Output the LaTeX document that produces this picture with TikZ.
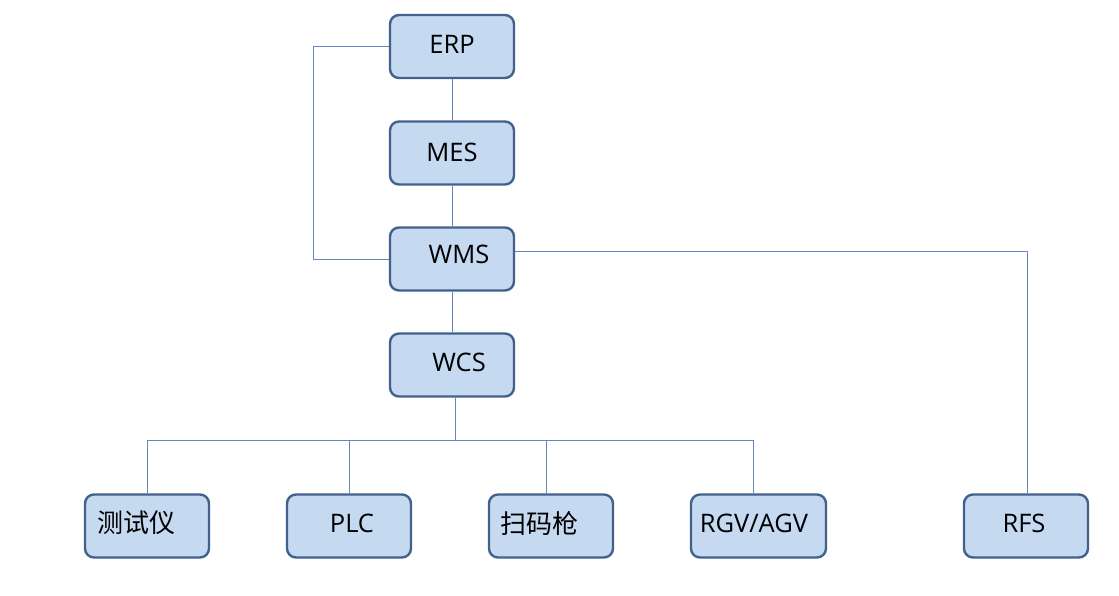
\documentclass[tikz,border=0pt]{standalone}
\usepackage{fontspec}
\setmainfont{Open Sans}
\newfontfamily\cjk{Noto Sans CJK SC}
\definecolor{boxfill}{RGB}{197,217,241}
\definecolor{boxedge}{RGB}{66,98,140}
\definecolor{wire}{RGB}{100,135,190}
\begin{document}
\begin{tikzpicture}[x=1pt,y=-1pt,
  sysbox/.style={draw=boxedge, line width=2.4pt, fill=boxfill, rounded corners=9pt,
    minimum width=124pt, minimum height=63pt, inner sep=0pt},
  lat/.style={font=\fontsize{25.5}{28}\selectfont},
  han/.style={font=\cjk\fontsize{26}{28}\selectfont},
  wireline/.style={draw=wire, line width=0.9pt}]
\useasboundingbox (0,0) rectangle (1119,596);
% nodes
\node[sysbox] (erp) at (452,46.5) {};
\node[sysbox] (mes) at (452,153) {};
\node[sysbox] (wms) at (452,259) {};
\node[sysbox] (wcs) at (452,365) {};
\node[sysbox] (tst) at (147,526) {};
\node[sysbox] (plc) at (349,526) {};
\node[sysbox] (scan) at (551,526) {};
\node[sysbox, minimum width=135pt] (rgv) at (758.5,526) {};
\node[sysbox] (rfs) at (1026,526) {};
% texts
\node[lat] (terp) at (452,44) {ERP};
\node[lat] (tmes) at (452,152) {MES};
\node[lat] (twms) at (459,254) {WMS};
\node[lat] (twcs) at (459,362) {WCS};
\node[han] (ttst) at (136,523) {测试仪};
\node[lat] (tplc) at (352,523) {PLC};
\node[han] (tscan) at (539,523) {扫码枪};
\node[lat] (trgv) at (754,523) {RGV/AGV};
\node[lat] (trfs) at (1024,523) {RFS};
% connectors
\coordinate (bus) at (455,440);
\draw[wireline] (erp.south) -- (mes.north);
\draw[wireline] (mes.south) -- (wms.north);
\draw[wireline] (wms.south) -- (wcs.north);
\draw[wireline] (erp.west) -- (313,46.5) |- (wms.west);
\draw[wireline] (wms.east |- 0,251.5) -| (rfs.north -| 1027,0);
\draw[wireline] (wcs.south -| bus) -- (bus);
\draw[wireline] (bus) -| (tst.north);
\draw[wireline] (bus) -| (plc.north);
\draw[wireline] (bus) -| (scan.north -| 546.5,0);
\draw[wireline] (bus) -| (rgv.north -| 753,0);
\end{tikzpicture}
\end{document}
